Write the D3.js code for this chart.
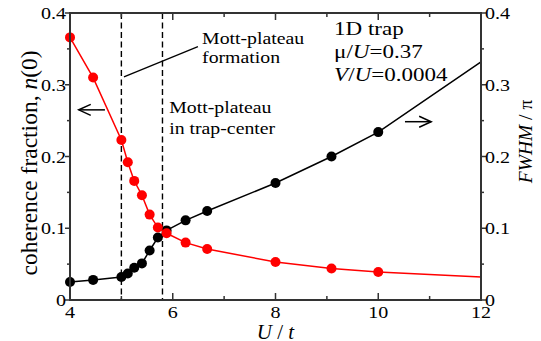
<!DOCTYPE html>
<html>
<head>
<meta charset="utf-8">
<script src="https://cdn.jsdelivr.net/npm/d3@7"></script>
<style>
  html, body { margin: 0; padding: 0; background: #fff; }
  svg { display: block; }
  text { font-family: "Liberation Serif", "Times New Roman", serif; fill: #000; }
</style>
</head>
<body>
<svg id="chart" width="541" height="341"></svg>
<script>
// ---- data ----
const U_t = [4, 4.45, 5.0, 5.125, 5.25, 5.4, 5.55, 5.71, 5.88, 6.25, 6.67, 8.0, 9.09, 10.0, 12];
const coherence = [0.366, 0.310, 0.223, 0.192, 0.166, 0.146, 0.119, 0.101, 0.093, 0.080, 0.071, 0.053, 0.044, 0.039, 0.032];
const fwhm = [0.025, 0.028, 0.032, 0.037, 0.045, 0.051, 0.069, 0.087, 0.097, 0.111, 0.124, 0.163, 0.200, 0.234, 0.332];
// the last entry (U/t = 12) is the curve end without a marker
const xTicks = [4, 6, 8, 10, 12];
const xMinor = [5, 7, 9, 11];
const yTicks = [0, 0.1, 0.2, 0.3, 0.4];
const yMinor = [0.05, 0.15, 0.25, 0.35];
const yTickLabels = ["0", "0.1", "0.2", "0.3", "0.4"];
const dashedU = [5.0, 5.8];

const svg = d3.select("#chart");
const L = 70, R = 481, T = 13, B = 300;
const x = d3.scaleLinear().domain([4, 12]).range([L, R]);
const y = d3.scaleLinear().domain([0, 0.4]).range([B, T]);
const SX = 1.18; // horizontal glyph stretch of the reference

function htext(g, px, py, size, anchor, parts, sx) {
  const t = g.append("text")
    .attr("transform", `translate(${px},${py}) scale(${sx || SX},1)`)
    .attr("font-size", size)
    .attr("text-anchor", anchor || "start");
  parts.forEach(p => {
    const ts = t.append("tspan").text(p[0]);
    if (p[1]) ts.attr("font-style", "italic");
  });
  return t;
}

// dashed vertical lines
svg.selectAll("line.dash").data(dashedU).enter().append("line")
  .attr("x1", d => x(d)).attr("x2", d => x(d))
  .attr("y1", T).attr("y2", B)
  .attr("stroke", "#000").attr("stroke-width", 1.4)
  .attr("stroke-dasharray", "6,3.5");

// series
const pts = (ys) => U_t.map((u, i) => [u, ys[i]]);
const line = d3.line().x(d => x(d[0])).y(d => y(d[1]));
function series(ys, color) {
  svg.append("path").attr("d", line(pts(ys)))
    .attr("fill", "none").attr("stroke", color).attr("stroke-width", 1.5);
  svg.selectAll(null).data(pts(ys).slice(0, -1)).enter().append("circle")
    .attr("cx", d => x(d[0])).attr("cy", d => y(d[1])).attr("r", 5)
    .attr("fill", color);
}
series(fwhm, "#000");
series(coherence, "#ff0000");

// frame
const ax = "#333";
svg.append("rect").attr("x", L).attr("y", T).attr("width", R - L).attr("height", B - T)
  .attr("fill", "none").attr("stroke", ax).attr("stroke-width", 2);

// x ticks (inward, bottom and top)
function vt(vals, len) {
  vals.forEach(v => {
    svg.append("line").attr("x1", x(v)).attr("x2", x(v)).attr("y1", B).attr("y2", B - len)
      .attr("stroke", ax).attr("stroke-width", 1.5);
    svg.append("line").attr("x1", x(v)).attr("x2", x(v)).attr("y1", T).attr("y2", T + len)
      .attr("stroke", ax).attr("stroke-width", 1.5);
  });
}
vt(xTicks.slice(1, -1), 7);
vt(xMinor, 4);
// y ticks (outward, left and right)
function ht(vals, len) {
  vals.forEach(v => {
    svg.append("line").attr("x1", L).attr("x2", L - len).attr("y1", y(v)).attr("y2", y(v))
      .attr("stroke", ax).attr("stroke-width", 1.5);
    svg.append("line").attr("x1", R).attr("x2", R + len).attr("y1", y(v)).attr("y2", y(v))
      .attr("stroke", ax).attr("stroke-width", 1.5);
  });
}
ht(yTicks, 5);
ht(yMinor, 3);

// tick labels
const tl = svg.append("g");
xTicks.forEach(v => htext(tl, x(v), 318, 17, "middle", [[String(v)]]));
yTicks.forEach((v, i) => {
  htext(tl, L - 4, y(v) + 6, 17, "end", [[yTickLabels[i]]]);
  htext(tl, R + 4, y(v) + 6, 17, "start", [[yTickLabels[i]]]);
});

// axis titles
htext(svg, (L + R) / 2, 338.5, 20, "middle", [["U", 1], [" / "], ["t", 1]], 1.05);
const lt = svg.append("text").attr("transform", "translate(37,163) rotate(-90)")
  .attr("font-size", 23.5).attr("text-anchor", "middle");
lt.append("tspan").text("coherence fraction, ");
lt.append("tspan").text("n").attr("font-style", "italic");
lt.append("tspan").text("(0)");
const rt = svg.append("text").attr("transform", "translate(532,141.5) rotate(-90)")
  .attr("font-size", 19.5).attr("text-anchor", "middle");
rt.append("tspan").text("FWHM").attr("font-style", "italic");
rt.append("tspan").text(" / π");

// annotations
const an = svg.append("g");
htext(an, x(6.57), y(0.357), 16.5, "start", [["Mott-plateau"]], 1.2);
htext(an, x(6.57), y(0.331), 16.5, "start", [["formation"]], 1.2);
htext(an, x(5.93), y(0.261), 16.5, "start", [["Mott-plateau"]], 1.2);
htext(an, x(5.93), y(0.232), 16.5, "start", [["in trap-center"]], 1.2);
htext(an, x(9.14), y(0.369), 18, "start", [["1D trap"]], 1.28);
htext(an, x(9.14), y(0.337), 18, "start", [["μ/"], ["U", 1], ["=0.37"]], 1.28);
htext(an, x(9.14), y(0.305), 18, "start", [["V", 1], ["/"], ["U", 1], ["=0.0004"]], 1.28);

// pointer line
an.append("line").attr("x1", x(5.05)).attr("y1", y(0.311)).attr("x2", x(6.49)).attr("y2", y(0.353))
  .attr("stroke", "#000").attr("stroke-width", 1.3);

// arrows
function arrow(x0, x1, yv, dir) {
  const tip = x(x1), tail = x(x0), yy = y(yv);
  an.append("line").attr("x1", tail).attr("x2", tip).attr("y1", yy).attr("y2", yy)
    .attr("stroke", "#000").attr("stroke-width", 1.5);
  an.append("path")
    .attr("d", `M${tip - dir * 12},${yy - 5.5}L${tip},${yy}L${tip - dir * 12},${yy + 5.5}`)
    .attr("fill", "none").attr("stroke", "#000").attr("stroke-width", 1.5);
}
arrow(4.68, 4.17, 0.265, -1);
arrow(10.52, 11.03, 0.2485, 1);
</script>
</body>
</html>
